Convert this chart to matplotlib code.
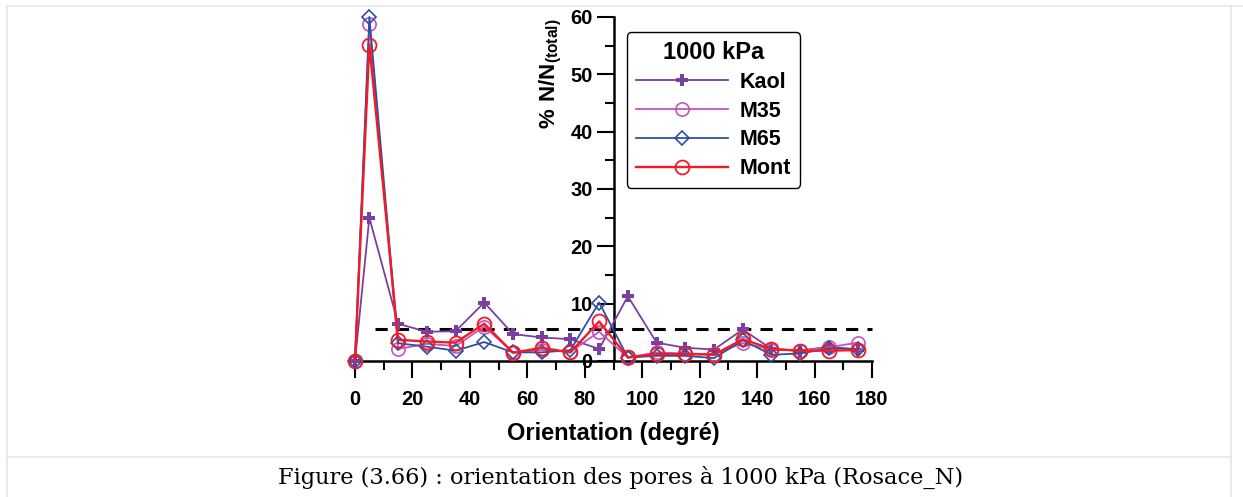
import numpy as np
import matplotlib
matplotlib.use('Agg')
import matplotlib.pyplot as plt
from matplotlib.ticker import MultipleLocator
from matplotlib.lines import Line2D

plt.rcParams['font.family'] = 'Liberation Sans'
plt.rcParams['font.weight'] = 'bold'
plt.rcParams['mathtext.fontset'] = 'custom'
plt.rcParams['mathtext.bf'] = 'Liberation Sans:bold'
plt.rcParams['mathtext.rm'] = 'Liberation Sans:bold'

# orientation classes (degrees)
angles = [0, 5, 15, 25, 35, 45, 55, 65, 75, 85, 95, 105, 115, 125, 135, 145, 155, 165, 175]

# % N/N(total) per class
kaol = [0, 25.0, 6.5, 5.1, 5.2, 10.2, 4.7, 4.1, 3.8, 2.1, 11.3, 3.2, 2.3, 2.0, 5.5, 2.1, 1.8, 2.5, 2.0]
m35  = [0, 58.8, 2.1, 3.0, 2.6, 6.0, 1.5, 1.9, 1.6, 5.1, 0.6, 1.5, 1.3, 1.2, 3.1, 2.0, 1.8, 2.4, 3.2]
m65  = [0, 60.0, 3.1, 2.5, 1.8, 3.3, 1.5, 1.5, 1.9, 10.2, 0.6, 0.9, 0.9, 0.5, 3.6, 1.1, 1.3, 2.2, 2.1]
mont = [0, 55.2, 3.7, 3.4, 3.2, 6.5, 1.45, 2.3, 1.5, 6.9, 0.65, 1.2, 1.2, 1.1, 3.8, 2.1, 1.8, 1.8, 1.9]

uniform = 100.0 / 18   # isotropic reference level
dash_start, dash_end = 7, 180

fig = plt.figure(figsize=(12.43, 4.97), dpi=100)

# light grey page frame + caption separator
grey = '#e6e6e6'
fig.add_artist(Line2D([6.5/1243, 6.5/1243], [0, 1 - 6/497], color=grey, lw=1.2))
fig.add_artist(Line2D([1231/1243, 1231/1243], [0, 1 - 6/497], color=grey, lw=1.2))
fig.add_artist(Line2D([6.5/1243, 1], [1 - 6/497, 1 - 6/497], color=grey, lw=1.2))
fig.add_artist(Line2D([6.5/1243, 1231/1243], [1 - 457/497, 1 - 457/497], color=grey, lw=1.2))

ax = fig.add_axes([355/1243, (497-361)/497, 517/1243, 344/497])

ax.plot(angles, kaol, color='#7b3fa0', lw=1.3, marker='P', ms=9, mew=0,
        label='Kaol', clip_on=False, zorder=3)
ax.plot(angles, m35, color='#c055c0', lw=1.3, marker='o', ms=9.5, mfc='none', mew=1.2,
        label='M35', clip_on=False, zorder=3)
ax.plot(angles, m65, color='#2e4fa6', lw=1.3, marker='D', ms=7, mfc='none', mew=1.2,
        label='M65', clip_on=False, zorder=3)
ax.plot(angles, mont, color='#f01c24', lw=1.7, marker='o', ms=10, mfc='none', mew=1.3,
        label='Mont', clip_on=False, zorder=3)

ax.plot([dash_start, dash_end], [uniform, uniform], color='black', lw=2.2,
        ls=(0, (4, 3)), zorder=2, clip_on=False)

ax.set_xlim(0, 180)
ax.set_ylim(0, 60)
ax.spines['top'].set_visible(False)
ax.spines['right'].set_visible(False)
ax.spines['left'].set_position(('data', 90))
ax.spines['left'].set_linewidth(1.8)
ax.spines['bottom'].set_linewidth(1.8)

ax.xaxis.set_major_locator(MultipleLocator(20))
ax.xaxis.set_minor_locator(MultipleLocator(10))
ax.yaxis.set_major_locator(MultipleLocator(10))
ax.yaxis.set_minor_locator(MultipleLocator(5))
ax.tick_params(which='major', direction='out', length=12, width=1.5, labelsize=14.5)
ax.tick_params(which='minor', direction='out', length=6.5, width=1.5)
ax.tick_params(axis='x', pad=9)
ax.tick_params(axis='y', pad=3)
for lab in ax.get_xticklabels() + ax.get_yticklabels():
    lab.set_fontweight('bold')

ax.set_xlabel('Orientation (degré)', fontsize=17, fontweight='bold', labelpad=9)
ax.set_ylabel(r'$\mathbf{\%\ N/N_{(total)}}$', fontsize=16)
ax.yaxis.set_label_coords(0.404, 0.835)

leg = ax.legend(loc='upper left', bbox_to_anchor=(0.526, 0.955), title='1000 kPa',
                fontsize=15.5, title_fontsize=17, handlelength=4.3, handletextpad=0.55,
                labelspacing=0.36, borderpad=0.4, borderaxespad=0.0, fancybox=True,
                framealpha=1, edgecolor='black')
leg.get_frame().set_linewidth(1.0)
leg.get_title().set_fontweight('bold')
for t in leg.get_texts():
    t.set_fontweight('bold')

fig.text(621/1243, 1 - 477/497, 'Figure (3.66) : orientation des pores à 1000 kPa (Rosace_N)',
         fontsize=16.2, family='DejaVu Serif', fontweight='normal', ha='center', va='center')

fig.savefig('out.png', dpi=100)
